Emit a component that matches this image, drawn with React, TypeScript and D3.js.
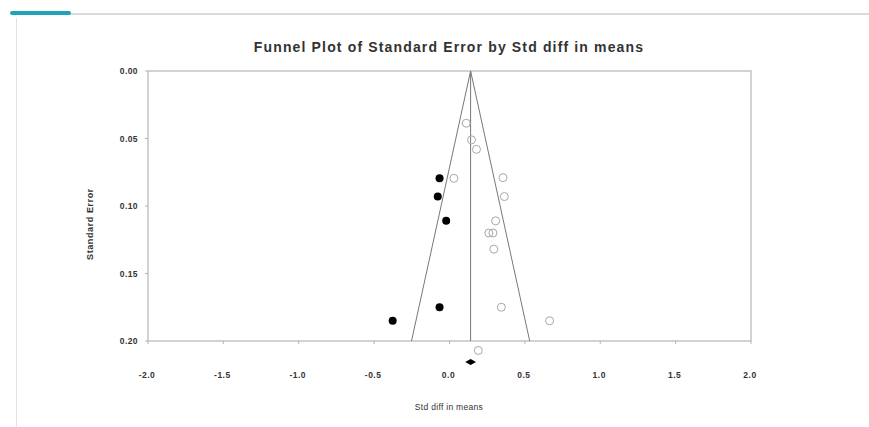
import React from "react";
import * as d3 from "d3";

const W = 869;
const H = 427;

const title = "Funnel Plot of Standard Error by Std diff in means";
const xLabel = "Std diff in means";
const yLabel = "Standard Error";

const xTicks = [-2.0, -1.5, -1.0, -0.5, 0.0, 0.5, 1.0, 1.5, 2.0];
const yTicks = [0.0, 0.05, 0.1, 0.15, 0.2];

// observed studies (open circles): effect, standard error
const observedEffect = [0.111, 0.146, 0.179, 0.029, 0.355, 0.364, 0.306, 0.261, 0.288, 0.294, 0.344, 0.664, 0.191];
const observedSE = [0.0387, 0.051, 0.058, 0.0795, 0.079, 0.093, 0.111, 0.12, 0.12, 0.132, 0.175, 0.185, 0.207];

// imputed studies (filled circles)
const imputedEffect = [-0.066, -0.078, -0.022, -0.066, -0.377];
const imputedSE = [0.0795, 0.093, 0.111, 0.175, 0.185];

// combined estimate
const meanEffect = 0.14;
const summaryLower = 0.104;
const summaryUpper = 0.176;
const summarySE = 0.2156;
const summaryHalfHeightSE = 0.0022;
const funnelMaxSE = 0.2;
const z = 1.96;

const fmtX = (t: number) => d3.format(".1f")(t).replace("\u2212", "-");
const fmtY = (t: number) => d3.format(".2f")(t).replace("\u2212", "-");

export default function App() {
  const left = 148, right = 751, top = 71, bottom = 341;
  const x = d3.scaleLinear().domain([-2, 2]).range([left, right]);
  const y = d3.scaleLinear().domain([0, 0.2]).range([top, bottom]);

  const funnel = d3.line<[number, number]>()
    .x((d) => x(d[0]))
    .y((d) => y(d[1]));
  const funnelPts: [number, number][] = [
    [meanEffect - z * funnelMaxSE, funnelMaxSE],
    [meanEffect, 0],
    [meanEffect + z * funnelMaxSE, funnelMaxSE],
  ];
  const diamond = d3.line<[number, number]>()
    .x((d) => x(d[0]))
    .y((d) => y(d[1]))
    .curve(d3.curveLinearClosed);
  const diamondPts: [number, number][] = [
    [summaryLower, summarySE],
    [meanEffect, summarySE - summaryHalfHeightSE],
    [summaryUpper, summarySE],
    [meanEffect, summarySE + summaryHalfHeightSE],
  ];

  const font = "Arial, 'Liberation Sans', sans-serif";

  return (
    <svg
      width={W}
      height={H}
      style={{ position: "absolute", left: 0, top: 0, display: "block", background: "#fff" }}
      fontFamily={font}
    >
      {/* card decorations */}
      <line x1={70} y1={14} x2={W} y2={14} stroke="#cfcfcf" strokeWidth={1.5} />
      <rect x={10} y={11} width={61} height={4} rx={2} fill="#1fa3b8" />
      <line x1={16.5} y1={18} x2={16.5} y2={H} stroke="#e2e2e2" strokeWidth={1} />

      <text x={449} y={52} textAnchor="middle" fontSize={14} fontWeight="bold" letterSpacing={1.15} fill="#333">
        {title}
      </text>

      {/* frame */}
      <rect x={left} y={top} width={right - left} height={bottom - top} fill="none" stroke="#b5b5b5" strokeWidth={1.2} />

      {/* y ticks */}
      {yTicks.map((t) => (
        <g key={"y" + t}>
          <line x1={left - 3} x2={left} y1={y(t)} y2={y(t)} stroke="#b5b5b5" />
          <text x={138} y={y(t) + 3} textAnchor="end" fontSize={8.5} fontWeight="bold" letterSpacing={0.4} fill="#333">
            {fmtY(t)}
          </text>
        </g>
      ))}
      {/* x ticks */}
      {xTicks.map((t) => (
        <g key={"x" + t}>
          <line x1={x(t)} x2={x(t)} y1={bottom} y2={bottom + 3} stroke="#b5b5b5" />
          <text x={x(t) - 1} y={378} textAnchor="middle" fontSize={8.5} fontWeight="bold" letterSpacing={0.5} fill="#333">
            {fmtX(t)}
          </text>
        </g>
      ))}

      <text x={449} y={410} textAnchor="middle" fontSize={8.5} letterSpacing={0.3} fill="#333">
        {xLabel}
      </text>
      <text
        transform={`translate(93,224) rotate(-90)`}
        textAnchor="middle"
        fontSize={9}
        fontWeight="bold"
        letterSpacing={0.6}
        fill="#333"
      >
        {yLabel}
      </text>

      {/* funnel and mean line */}
      <path d={funnel(funnelPts) || ""} fill="none" stroke="#777" strokeWidth={1} />
      <line x1={x(meanEffect)} x2={x(meanEffect)} y1={top} y2={bottom} stroke="#777" strokeWidth={1} />

      {/* observed studies */}
      {observedEffect.map((e, i) => (
        <circle key={"o" + i} cx={x(e)} cy={y(observedSE[i])} r={4} fill="none" stroke="#a8a8a8" strokeWidth={1} />
      ))}
      {/* imputed studies */}
      {imputedEffect.map((e, i) => (
        <circle key={"f" + i} cx={x(e)} cy={y(imputedSE[i])} r={4} fill="#000" />
      ))}

      <path d={diamond(diamondPts) || ""} fill="#000" />
    </svg>
  );
}
